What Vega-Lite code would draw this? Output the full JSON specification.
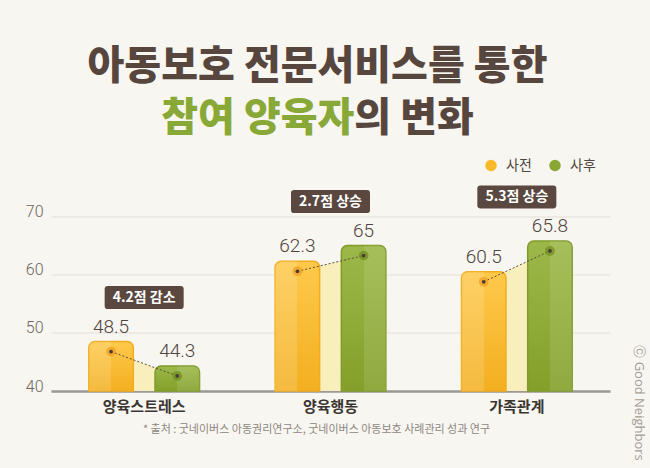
{
  "$schema": "https://vega.github.io/schema/vega-lite/v6.json",
  "width": 559,
  "height": 174.5,
  "autosize": {"type": "none"},
  "padding": {"left": 51, "top": 216.5, "right": 40, "bottom": 77},
  "background": "#f8f6f0",
  "title": {
    "text": "아동보호 전문서비스를 통한",
    "subtitle": "참여 양육자의 변화",
    "font": "Noto Sans CJK KR",
    "fontSize": 40,
    "fontWeight": 900,
    "color": "#57463e",
    "subtitleFont": "Noto Sans CJK KR",
    "subtitleFontSize": 40,
    "subtitleFontWeight": 900,
    "subtitleColor": {"expr": "({gradient: 'linear', x1: 0, y1: 0, x2: 1, y2: 0, stops: [{offset: 0, color: '#88a838'}, {offset: 0.618, color: '#88a838'}, {offset: 0.618, color: '#57463e'}, {offset: 1, color: '#57463e'}]})"},
    "subtitlePadding": 12,
    "anchor": "middle",
    "frame": "group",
    "baseline": "top",
    "dx": -13,
    "offset": 20
  },
  "datasets": {
    "main": [
      {"cat": "양육스트레스", "series": "사전", "value": 48.5},
      {"cat": "양육스트레스", "series": "사후", "value": 44.3},
      {"cat": "양육행동", "series": "사전", "value": 62.3},
      {"cat": "양육행동", "series": "사후", "value": 65},
      {"cat": "가족관계", "series": "사전", "value": 60.5},
      {"cat": "가족관계", "series": "사후", "value": 65.8}
    ],
    "callouts": [
      {"cat": "양육스트레스", "label": "4.2점 감소"},
      {"cat": "양육행동", "label": "2.7점 상승"},
      {"cat": "가족관계", "label": "5.3점 상승"}
    ]
  },
  "data": {"name": "main"},
  "resolve": {"axis": {"y": "independent"}},
  "encoding": {
    "x": {
      "field": "cat",
      "type": "nominal",
      "sort": ["양육스트레스", "양육행동", "가족관계"],
      "scale": {"paddingInner": 0, "paddingOuter": 0},
      "axis": {
        "title": "* 출처 : 굿네이버스 아동권리연구소, 굿네이버스 아동보호 사례관리 성과 연구",
        "titleFont": "Noto Sans CJK KR",
        "titleFontSize": 11,
        "titleFontWeight": "normal",
        "titleColor": "#8d8782",
        "titleX": 265,
        "titlePadding": 9,
        "labelAngle": 0,
        "labelFont": "Noto Sans CJK KR",
        "labelFontSize": 15,
        "labelFontWeight": "bold",
        "labelColor": "#3b3531",
        "labelPadding": 8,
        "ticks": false,
        "domainColor": "#9d9893",
        "domainWidth": 2.5
      }
    },
    "xOffset": {"field": "series", "scale": {"paddingInner": 0.328, "paddingOuter": 0.571}},
    "y": {"field": "value", "type": "quantitative", "scale": {"domain": [40, 70], "zero": false, "nice": false}, "axis": null}
  },
  "layer": [
    {
      "mark": {"type": "area", "color": "#f8efbd", "yOffset": 10},
      "encoding": {
        "y2": {"datum": 40},
        "detail": {"field": "cat"}
      }
    },
    {
      "transform": [{"filter": "datum.series === '사전'"}],
      "mark": {
        "type": "bar",
        "cornerRadiusTopLeft": 6,
        "cornerRadiusTopRight": 6,
        "stroke": "#f2ad1e",
        "strokeWidth": 1.5,
        "fill": {"gradient": "linear", "x1": 0, "y1": 0, "x2": 0, "y2": 1, "stops": [{"offset": 0, "color": "#fec94c"}, {"offset": 1, "color": "#f3af20"}]}
      },
      "encoding": {
        "y": {
          "field": "value",
          "type": "quantitative",
          "scale": {"domain": [40, 70], "zero": false, "nice": false},
          "axis": {
            "title": null,
            "values": [40, 50, 60, 70],
            "grid": true,
            "gridColor": "#e4dfd7",
            "gridWidth": 1,
            "domain": false,
            "ticks": false,
            "labelFont": "Roboto",
            "labelFontSize": 16,
            "labelFontWeight": 300,
            "labelColor": "#6b6560",
            "labelPadding": 8,
            "labelBaseline": "alphabetic"
          }
        },
        "y2": {"datum": 40}
      }
    },
    {
      "transform": [{"filter": "datum.series === '사전'"}],
      "mark": {
        "type": "bar",
        "cornerRadiusTopLeft": 6,
        "cornerRadiusTopRight": 6,
        "fill": {"gradient": "linear", "x1": 0, "y1": 0, "x2": 1, "y2": 0, "stops": [{"offset": 0, "color": "rgba(255,255,255,0.14)"}, {"offset": 0.5, "color": "rgba(255,255,255,0.14)"}, {"offset": 0.5, "color": "rgba(255,255,255,0)"}, {"offset": 1, "color": "rgba(255,255,255,0)"}]}
      },
      "encoding": {"y2": {"datum": 40}}
    },
    {
      "transform": [{"filter": "datum.series === '사후'"}],
      "mark": {
        "type": "bar",
        "cornerRadiusTopLeft": 6,
        "cornerRadiusTopRight": 6,
        "stroke": "#7f9b2a",
        "strokeWidth": 1.5,
        "fill": {"gradient": "linear", "x1": 0, "y1": 0, "x2": 0, "y2": 1, "stops": [{"offset": 0, "color": "#9cb849"}, {"offset": 1, "color": "#84a02a"}]}
      },
      "encoding": {"y2": {"datum": 40}}
    },
    {
      "transform": [{"filter": "datum.series === '사후'"}],
      "mark": {
        "type": "bar",
        "cornerRadiusTopLeft": 6,
        "cornerRadiusTopRight": 6,
        "fill": {"gradient": "linear", "x1": 0, "y1": 0, "x2": 1, "y2": 0, "stops": [{"offset": 0, "color": "rgba(255,255,255,0)"}, {"offset": 0.5, "color": "rgba(255,255,255,0)"}, {"offset": 0.5, "color": "rgba(255,255,255,0.1)"}, {"offset": 1, "color": "rgba(255,255,255,0.1)"}]}
      },
      "encoding": {"y2": {"datum": 40}}
    },
    {
      "mark": {"type": "line", "color": "#5a4a42", "strokeWidth": 1, "strokeDash": [2, 2], "yOffset": 10},
      "encoding": {"detail": {"field": "cat"}}
    },
    {
      "transform": [{"filter": "datum.series === '사전'"}],
      "mark": {"type": "point", "filled": true, "size": 95, "opacity": 0.75, "color": "#ef9f22", "yOffset": 10},
      "encoding": {}
    },
    {
      "transform": [{"filter": "datum.series === '사후'"}],
      "mark": {"type": "point", "filled": true, "size": 95, "opacity": 0.75, "color": "#728e22", "yOffset": 10},
      "encoding": {}
    },
    {
      "mark": {"type": "point", "filled": true, "size": 14, "color": "#4a3b35", "opacity": 1, "yOffset": 10},
      "encoding": {}
    },
    {
      "mark": {"type": "text", "font": "Roboto", "fontSize": 19, "fontWeight": 300, "color": "#4f4440", "baseline": "alphabetic", "dy": -9},
      "encoding": {
        "text": {"field": "value", "type": "quantitative"}
      }
    },
    {
      "transform": [
        {"aggregate": [{"op": "max", "field": "value", "as": "top"}], "groupby": ["cat"]},
        {"lookup": "cat", "from": {"data": {"name": "callouts"}, "key": "cat", "fields": ["label"]}}
      ],
      "encoding": {
        "xOffset": null,
        "y": {"field": "top", "type": "quantitative", "scale": {"domain": [40, 70], "zero": false, "nice": false}, "axis": null}
      },
      "layer": [
        {
          "mark": {
            "type": "point",
            "filled": true,
            "opacity": 1,
            "color": "#5a4840",
            "size": 6241,
            "yOffset": -44,
            "shape": "M -0.92,-0.291 L 0.92,-0.291 Q 1,-0.291 1,-0.211 L 1,0.211 Q 1,0.291 0.92,0.291 L -0.92,0.291 Q -1,0.291 -1,0.211 L -1,-0.211 Q -1,-0.291 -0.92,-0.291 Z"
          }
        },
        {
          "mark": {"type": "text", "font": "Noto Sans CJK KR", "fontSize": 14, "fontWeight": "bold", "color": "#ffffff", "baseline": "middle", "yOffset": -44},
          "encoding": {
            "text": {"field": "label"}
          }
        }
      ]
    },
    {
      "mark": {"type": "point", "filled": true, "opacity": 0},
      "encoding": {
        "xOffset": null,
        "y": {
          "field": "value",
          "type": "quantitative",
          "scale": {"domain": [40, 70], "zero": false, "nice": false},
          "axis": {
            "orient": "right",
            "title": "ⓒ Good Neighbors",
            "titleAngle": 90,
            "titleX": 28,
            "titleY": 186,
            "titleAlign": "center",
            "titleBaseline": "middle",
            "titleFont": "Open Sans",
            "titleFontSize": 13,
            "titleFontWeight": "normal",
            "titleColor": "#a39d97",
            "labels": false,
            "ticks": false,
            "domain": false,
            "grid": false
          }
        },
        "color": {
          "field": "series",
          "type": "nominal",
          "scale": {"domain": ["사전", "사후"], "range": ["#f8b92a", "#8aa735"]},
          "legend": {
            "title": null,
            "orient": "none",
            "legendX": 433,
            "legendY": -58,
            "direction": "horizontal",
            "symbolType": "circle",
            "symbolSize": 130,
            "symbolOpacity": 1,
            "symbolStrokeWidth": 0,
            "labelFont": "Noto Sans CJK KR",
            "labelFontSize": 14,
            "labelColor": "#4f4440",
            "labelOffset": 8,
            "columnPadding": 16
          }
        }
      }
    }
  ],
  "config": {
    "view": {"stroke": null}
  }
}
